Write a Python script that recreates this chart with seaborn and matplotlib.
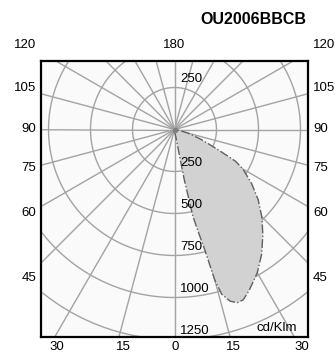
import numpy as np
import pandas as pd
import matplotlib
matplotlib.use("Agg")
import matplotlib.pyplot as plt
import seaborn as sns

# photometric data (gamma from nadir, cd/klm)
gamma = [0, 5, 10, 11, 12, 13, 14, 15, 16, 18, 20, 22, 25, 30, 35, 40, 45,
         50, 55, 60, 62.5, 65, 67.5, 70, 75, 80, 85, 90]
intensity = [15, 15, 40, 300, 530, 620, 720, 930, 1020, 1075, 1097, 1093,
             1054, 985, 905, 818, 735, 650, 560, 470, 410, 290, 210, 160,
             80, 25, 10, 5]

rings = [250, 500, 750, 1000, 1250]
side_labels = ["120", "105", "90", "75", "60", "45"]
bottom_labels = ["30", "15", "0", "15", "30"]
title = "OU2006BBCB"
unit = "cd/Klm"

sns.set_theme(style="white")
plt.rcParams["font.family"] = ["Liberation Sans", "DejaVu Sans"]
plt.rcParams["text.color"] = "black"

W, H = 335, 357
fig = plt.figure(figsize=(W / 100, H / 100), dpi=100)
fig.patch.set_facecolor("white")

# axes box in pixels
left, right, top, bottom = 41, 308, 60.5, 337
cx, cy = 174.5, 129.5
s = 250 / 42.0  # cd per pixel
ax = fig.add_axes([left / W, 1 - bottom / H, (right - left) / W, (bottom - top) / H])
ax.set_xlim((left - cx) * s, (right - cx) * s)
ax.set_ylim((cy - bottom) * s, (cy - top) * s)
ax.set_facecolor("#fafafa")
ax.set_xticks([])
ax.set_yticks([])
for sp in ax.spines.values():
    sp.set_color("black")
    sp.set_linewidth(1.6)

grid_c = "#a3a3a3"
t = np.linspace(0, 2 * np.pi, 400)
for r in rings:
    ax.plot(r * np.cos(t), r * np.sin(t), color=grid_c, lw=1.0, zorder=1)
for a in range(0, 360, 15):
    ar = np.deg2rad(a)
    ax.plot([0, 2000 * np.sin(ar)], [0, -2000 * np.cos(ar)], color=grid_c, lw=1.0, zorder=1)

# luminous intensity curve
g = np.deg2rad(np.array(gamma))
df = pd.DataFrame({"x": np.array(intensity) * np.sin(g),
                   "y": -np.array(intensity) * np.cos(g)})
ax.fill(np.r_[0, df["x"], 0], np.r_[0, df["y"], 0], color="#d2d2d2", zorder=2, lw=0)
sns.lineplot(data=df, x="x", y="y", sort=False, ax=ax, color="#606060",
             lw=1.0, linestyle="-.", zorder=3, estimator=None)
ax.plot(0, 0, "o", color="#808080", ms=3, zorder=4)
ax.set_xlabel("")
ax.set_ylabel("")

# ring labels
fs = 9.5
ax.text(33, 250 + 15, "250", fontsize=fs, ha="left", va="bottom", zorder=5)
for r in rings:
    ax.text(33, -r + 15, str(r), fontsize=fs, ha="left", va="bottom", zorder=5)
ax.text((297 - cx) * s, (cy - 328) * s, unit, fontsize=fs, ha="right", va="center", zorder=5)

# angle labels around the box
side_py = [45, 88, 129, 168, 213, 278]
for lab, py in zip(side_labels, side_py):
    y = (cy - py) * s
    ax.text((36 - cx) * s, y, lab, fontsize=fs, ha="right", va="center", clip_on=False)
    ax.text((313 - cx) * s, y, lab, fontsize=fs, ha="left", va="center", clip_on=False)
ax.text(0, (cy - 45) * s, "180", fontsize=fs, ha="center", va="center", clip_on=False)
bottom_px = [57, 123, 175, 233, 302]
for lab, px in zip(bottom_labels, bottom_px):
    ax.text((px - cx) * s, (cy - 347) * s, lab, fontsize=fs, ha="center", va="center", clip_on=False)

fig.text(306 / W, 1 - 19 / H, title, fontsize=11.5, fontweight="bold", ha="right", va="center")

fig.savefig("out.png", dpi=100)
